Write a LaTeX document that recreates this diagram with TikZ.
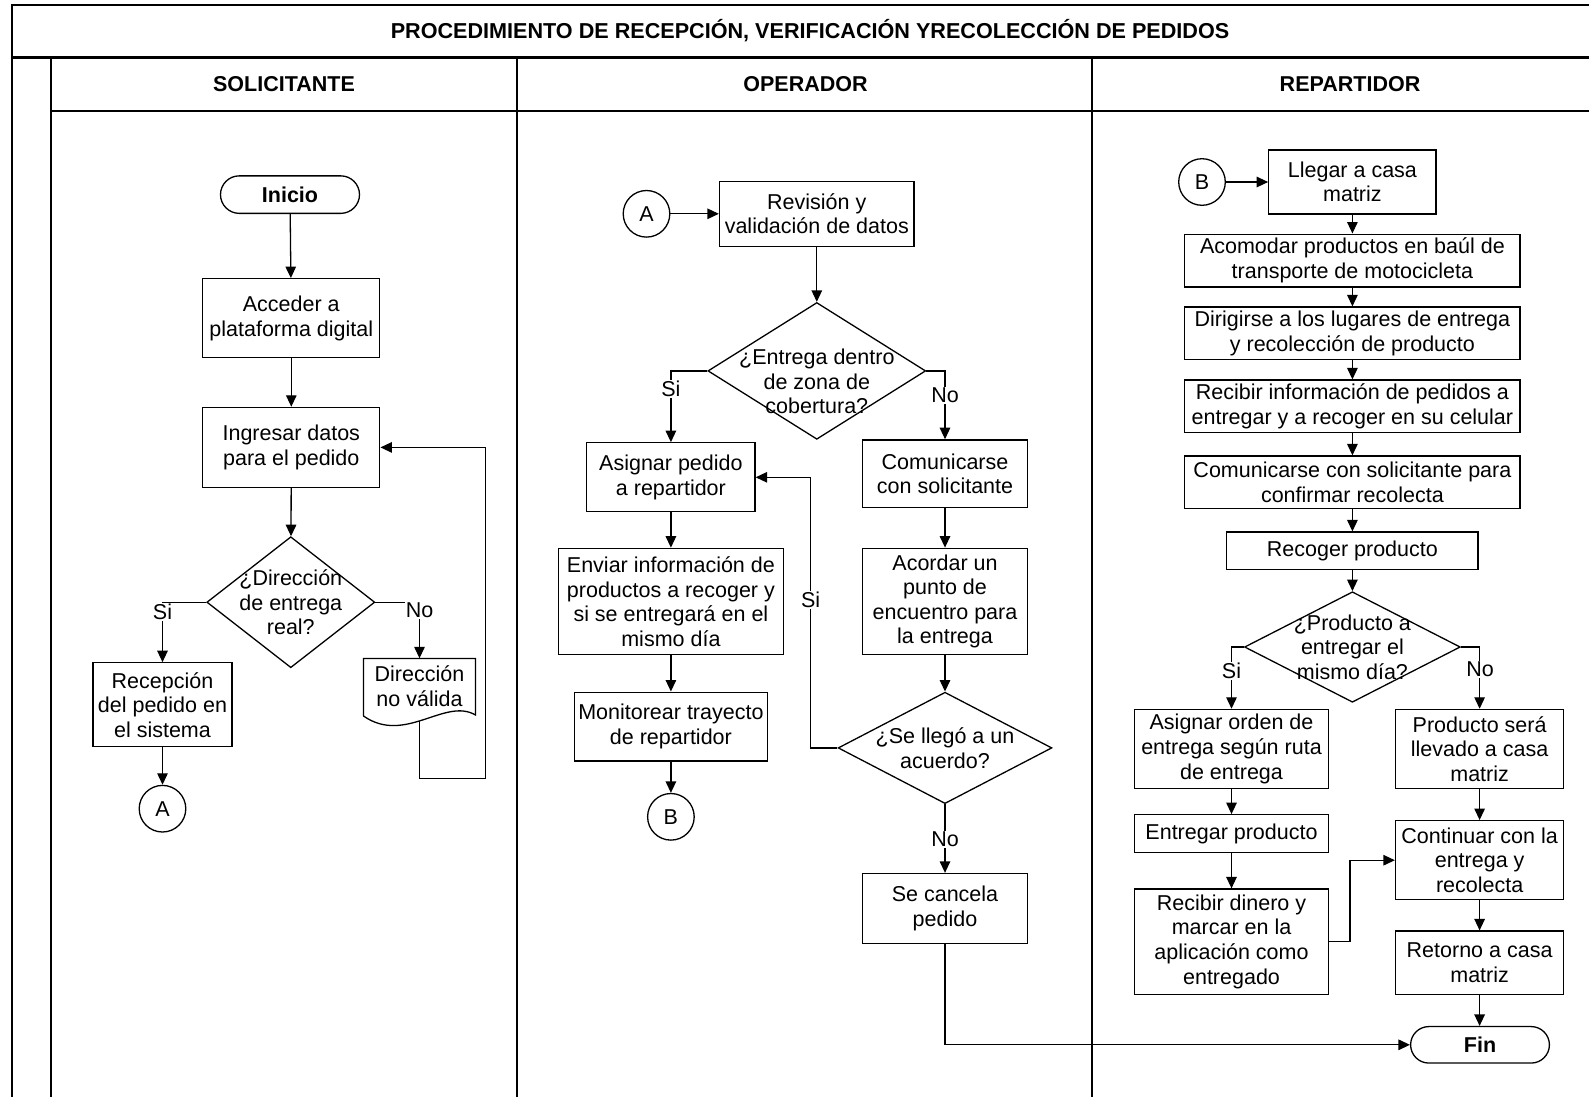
\documentclass[tikz,border=0pt]{standalone}
\usepackage{fontspec}
\setmainfont{Liberation Sans}
\usetikzlibrary{shapes.geometric,shapes.misc,arrows.meta}

\tikzset{
  base/.style={font=\fontsize{21.5}{24.6}\selectfont, align=center, inner sep=0pt},
  box/.style={base, draw, rectangle, line width=1.3pt},
  term/.style={base, draw, rounded rectangle, line width=1.3pt, font=\fontsize{21.5}{24.6}\selectfont\bfseries},
  conn/.style={base, draw, circle, line width=1.3pt, minimum size=46.6pt},
  dec/.style={draw, diamond, inner sep=0pt, line width=1.3pt},
  wide/.style={box, minimum width=335.4pt, minimum height=52.7pt},
  flow/.style={line width=1.3pt, -{Triangle[length=11.5pt,width=10.5pt]}},
  link/.style={line width=1.3pt},
  tag/.style={base, fill=white, inner sep=1pt},
  frame/.style={line width=2.4pt},
  lane/.style={line width=2pt},
  hdr/.style={font=\fontsize{21.5}{24.6}\selectfont\bfseries, inner sep=0pt}
}

\begin{document}
\begin{tikzpicture}[x=1pt,y=-1pt]
\useasboundingbox (0,0) rectangle (1589,1096);
\clip (0,0) rectangle (1589,1096);

% ---- table frame and lanes ----
\draw[frame] (12,1110) -- (12,5) -- (1620,5);
\draw[frame] (12,57.5) -- (1620,57.5);
\draw[lane] (50.7,57.5) -- (50.7,1110);
\draw[lane] (50.7,110.5) -- (1620,110.5);
\draw[lane] (517,57.5) -- (517,1110);
\draw[lane] (1092,57.5) -- (1092,1110);

\node[hdr, font=\fontsize{21.6}{24}\selectfont\bfseries] (title) at (810,31)
  {PROCEDIMIENTO DE RECEPCIÓN, VERIFICACIÓN YRECOLECCIÓN DE PEDIDOS};
\node[hdr] (h1) at (284,84) {SOLICITANTE};
\node[hdr] (h2) at (805.5,84) {OPERADOR};
\node[hdr] (h3) at (1350,84) {REPARTIDOR};

% ---- SOLICITANTE ----
\node[term, minimum width=139pt, minimum height=37.5pt] (ini) at (290,194.6) {Inicio};
\node[box, minimum width=177pt, minimum height=79pt] (acc) at (291.3,318.2) {Acceder a\\plataforma digital};
\node[box, minimum width=177pt, minimum height=80pt] (ing) at (291.3,447.4) {Ingresar datos\\para el pedido};
\node[dec, minimum width=168pt, minimum height=131pt] (dq1) at (290.8,602.2) {};
\node[base] (dq1t) at (dq1) {¿Dirección\\de entrega\\real?};
\node[box, minimum width=139pt, minimum height=84pt] (rec) at (162.5,704.8) {Recepción\\del pedido en\\el sistema};
\node[conn] (ca1) at (162.5,808.7) {A};
% document shape with wavy bottom
\draw[link] (363.5,716) -- (363.5,658.5) -- (475.5,658.5) -- (475.5,715)
  .. controls (445,697) and (405,745) .. (363.5,716);
\node[base, minimum width=112pt, minimum height=55pt] (dv) at (419.5,686) {Dirección\\no válida};
\coordinate (dvb) at (419.5,720.5);
\coordinate (lp1) at (485.5,778.3);

\draw[flow] (ini) -- (acc);
\draw[flow] (acc) -- (ing);
\draw[flow] (ing) -- (dq1);
\draw[flow] (dq1.west) -| (rec.north);
\draw[flow] (dq1.east) -| (dv.north);
\draw[flow] (rec) -- (ca1);
\draw[flow] (dvb) |- (lp1) |- (ing.east);
\node[tag] (s1) at (162.5,612) {Si};
\node[tag] (n1) at (419.5,610) {No};

% ---- OPERADOR ----
\node[conn] (ca2) at (646.5,213.8) {A};
\node[box, minimum width=194.6pt, minimum height=65pt] (rev) at (816.8,213.8) {Revisión y\\validación de datos};
\node[dec, minimum width=217.8pt, minimum height=136.8pt] (dq2) at (816.8,370.9) {};
\node[base] (dq2t) at (816.8,381.5) {¿Entrega dentro\\de zona de\\cobertura?};
\node[box, minimum width=168.2pt, minimum height=69pt] (asg) at (670.9,477.3) {Asignar pedido\\a repartidor};
\node[box, minimum width=225pt, minimum height=106.4pt] (env) at (670.9,601.5) {Enviar información de\\productos a recoger y\\si se entregará en el\\mismo día};
\node[box, minimum width=193.5pt, minimum height=68.9pt] (mon) at (670.9,726.6) {Monitorear trayecto\\de repartidor};
\node[conn] (cb1) at (670.9,816.8) {B};
\node[box, minimum width=165.2pt, minimum height=67.9pt] (com) at (945,473.8) {Comunicarse\\con solicitante};
\node[box, minimum width=165.2pt, minimum height=106.5pt] (acu) at (945,601.5) {Acordar un\\punto de\\encuentro para\\la entrega};
\node[dec, minimum width=213.8pt, minimum height=111.4pt] (dq3) at (945,747.9) {};
\node[base] (dq3t) at (dq3) {¿Se llegó a un\\acuerdo?};
\node[box, minimum width=165.2pt, minimum height=70pt] (can) at (945,908.5) {Se cancela\\pedido};
\coordinate (lp2) at (810.7,747.9);

\draw[flow] (ca2) -- (rev);
\draw[flow] (rev) -- (dq2);
\draw[flow] (dq2.west) -| (asg.north);
\draw[flow] (dq2.east) -| (com.north);
\draw[flow] (asg) -- (env);
\draw[flow] (env) -- (mon);
\draw[flow] (mon) -- (cb1);
\draw[flow] (com) -- (acu);
\draw[flow] (acu) -- (dq3);
\draw[flow] (dq3.west) -- (lp2) |- (asg.east);
\draw[flow] (dq3) -- (can);
\node[tag] (s2) at (670.9,389) {Si};
\node[tag] (n2) at (945,395) {No};
\node[tag] (s3) at (810.7,600) {Si};
\node[tag] (n3) at (945,839) {No};

% ---- REPARTIDOR ----
\node[conn] (cb2) at (1202,182) {B};
\node[box, minimum width=167.2pt, minimum height=63.8pt] (lle) at (1352.4,182) {Llegar a casa\\matriz};
\node[wide] (aco) at (1352.4,260.5) {Acomodar productos en baúl de\\transporte de motocicleta};
\node[wide] (dir) at (1352.4,333.4) {Dirigirse a los lugares de entrega\\y recolección de producto};
\node[wide] (inf) at (1352.4,406.4) {Recibir información de pedidos a\\entregar y a recoger en su celular};
\node[wide] (csol) at (1352.4,482.4) {Comunicarse con solicitante para\\confirmar recolecta};
\node[box, minimum width=251.3pt, minimum height=37.5pt] (rcg) at (1352.4,550.8) {Recoger producto};
\node[dec, minimum width=215.8pt, minimum height=110.5pt] (dq4) at (1352.4,647) {};
\node[base] (dq4t) at (dq4) {¿Producto a\\entregar el\\mismo día?};
\node[box, minimum width=194.6pt, minimum height=79pt] (aso) at (1231.5,748.9) {Asignar orden de\\entrega según ruta\\de entrega};
\node[box, minimum width=194.6pt, minimum height=37.5pt] (ent) at (1231.5,833.5) {Entregar producto};
\node[box, minimum width=194.6pt, minimum height=105.3pt] (rdi) at (1231.5,941.7) {Recibir dinero y\\marcar en la\\aplicación como\\entregado};
\node[box, minimum width=168.2pt, minimum height=79pt] (psl) at (1479.6,748.9) {Producto será\\llevado a casa\\matriz};
\node[box, minimum width=168.2pt, minimum height=79pt] (cnt) at (1479.6,860.2) {Continuar con la\\entrega y\\recolecta};
\node[box, minimum width=168.2pt, minimum height=63.3pt] (ret) at (1479.6,962.7) {Retorno a casa\\matriz};
\node[term, minimum width=138.8pt, minimum height=36.5pt] (fin) at (1480,1044.8) {Fin};
\coordinate (lp3) at (1350,941.7);

\draw[flow] (cb2) -- (lle);
\draw[flow] (lle.south) -- (lle.south |- aco.north);
\draw[flow] (aco) -- (dir);
\draw[flow] (dir) -- (inf);
\draw[flow] (inf) -- (csol);
\draw[flow] (csol) -- (rcg);
\draw[flow] (rcg) -- (dq4);
\draw[flow] (dq4.west) -| (aso.north);
\draw[flow] (dq4.east) -| (psl.north);
\draw[flow] (aso) -- (ent);
\draw[flow] (ent) -- (rdi);
\draw[flow] (rdi.east) -- (lp3) |- (cnt.west);
\draw[flow] (psl) -- (cnt);
\draw[flow] (cnt) -- (ret);
\draw[flow] (ret.south) -- (ret.south |- fin.north);
\draw[flow] (can.south) |- (fin.west);
\node[tag] (s4) at (1231.5,671) {Si};
\node[tag] (n4) at (1480,669) {No};
\end{tikzpicture}
\end{document}
